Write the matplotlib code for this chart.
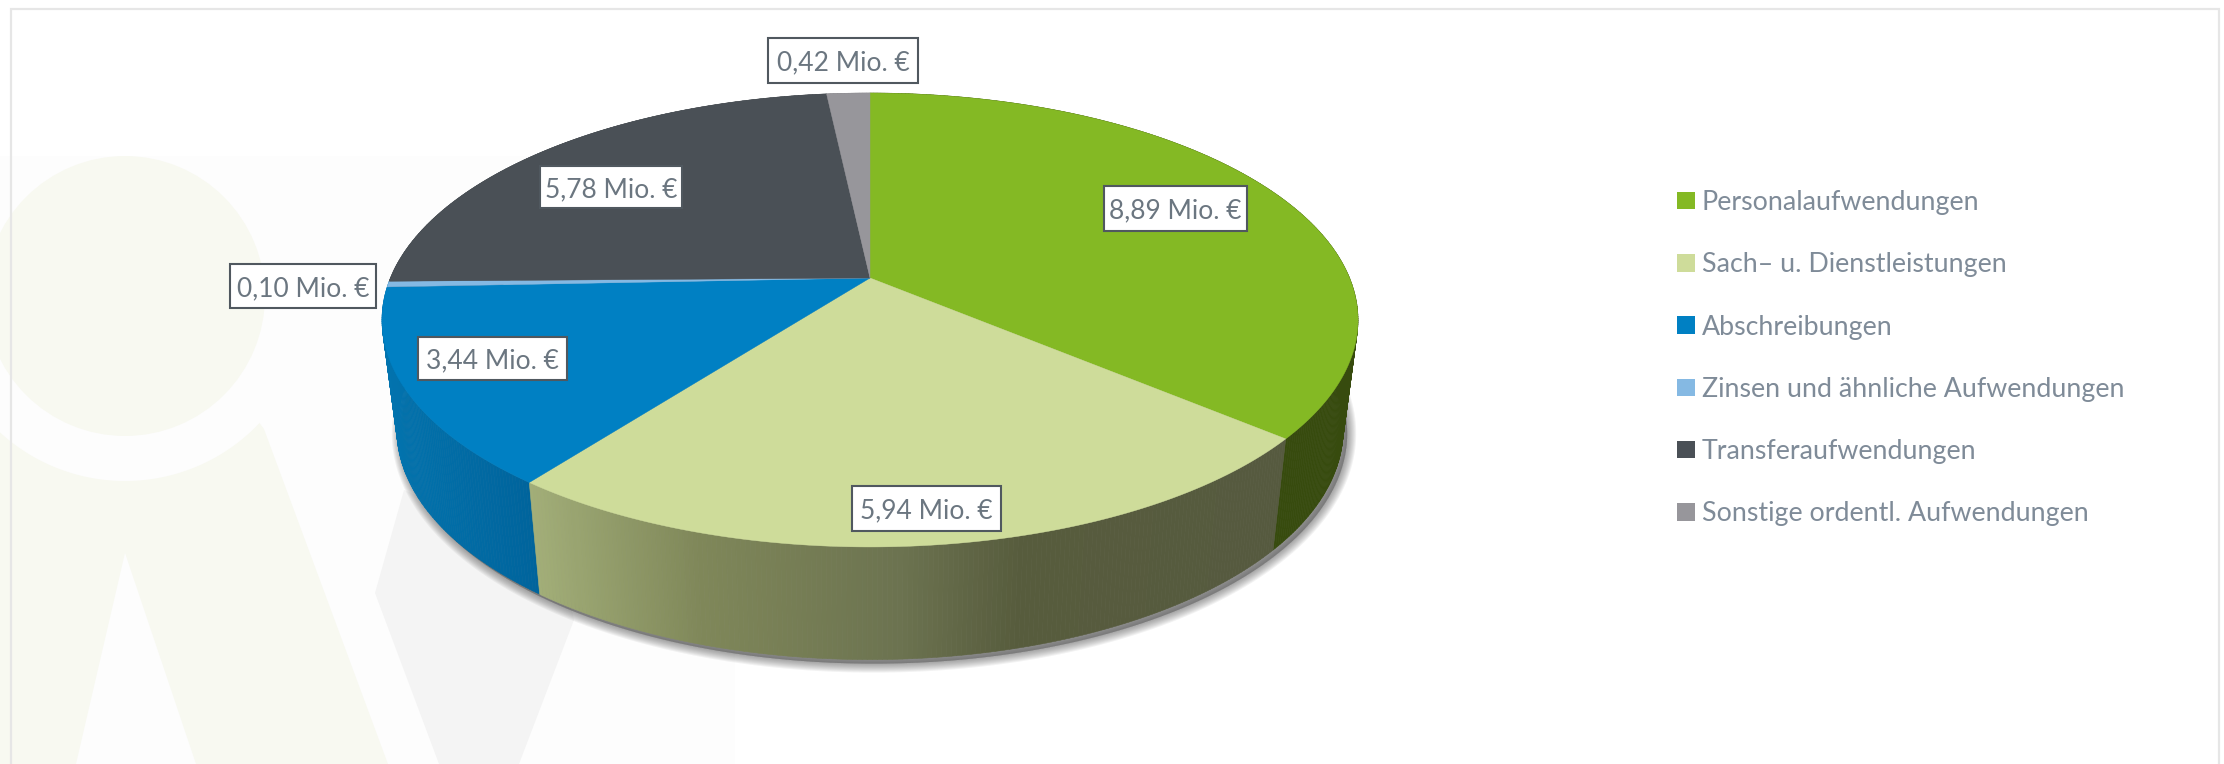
import numpy as np
import matplotlib
matplotlib.use("Agg")
import matplotlib.pyplot as plt
from matplotlib.patches import Polygon, Rectangle, Circle, Patch
from matplotlib.collections import PolyCollection

categories = ["Personalaufwendungen", "Sach- u. Dienstleistungen", "Abschreibungen",
              "Zinsen und ähnliche Aufwendungen", "Transferaufwendungen",
              "Sonstige ordentl. Aufwendungen"]
values = [8.89, 5.94, 3.44, 0.10, 5.78, 0.42]
value_labels = ["8,89 Mio. €", "5,94 Mio. €", "3,44 Mio. €", "0,10 Mio. €", "5,78 Mio. €", "0,42 Mio. €"]
colors = ["#84b924", "#cedc9a", "#0080c3", "#85b9e3", "#4a5056", "#97969b"]
label_centers = [(1175, 208.5), (926, 508.5), (492.5, 358.5), (303, 286), (611, 187), (843, 60.5)]
label_widths = [143, 149, 149, 146, 142, 150]
label_heights = [45, 45, 43, 44, 42, 45]

plt.rcParams['font.family'] = ['Lato', 'DejaVu Sans']
W, H = 2224, 764
fig = plt.figure(figsize=(W / 100, H / 100), dpi=100, facecolor="white")
ax = fig.add_axes([0, 0, 1, 1])
ax.set_xlim(0, W)
ax.set_ylim(H, 0)
ax.axis("off")

# page backdrop and faint watermark
ax.add_patch(Rectangle((0, 156), 735, H - 156, fc="#fdfdfd", ec="none", zorder=0))
wm = "#f8f9f1"
ax.add_patch(Circle((125, 296), 140, fc=wm, ec="none", zorder=0.5))
xa = np.linspace(0, 264, 60)
arc = np.c_[xa, 296 + np.sqrt(185 ** 2 - (xa - 125) ** 2)]
arc[-1, 1] = 429
body = np.vstack([[0, H], arc, [388, H], [196, H], [125, 553], [76, H]])
ax.add_patch(Polygon(body, fc=wm, ec="none", zorder=0.5))
ax.add_patch(Polygon([(375, 593), (404, 490), (560, 560), (574, 620), (519, H), (439, H)],
                     fc="#f4f4f4", ec="none", zorder=0.6))
for seg in ([(11, H), (11, 8.5), (2219, 8.5), (2219, H)],):
    ax.plot(*zip(*seg), color="#e6e6e6", lw=1.6, zorder=0.7, solid_joinstyle="miter")

# perspective disc model
CX, CY, K = 870.0, 278.0, 0.185


def top_pt(theta):
    u, v = np.sin(theta), np.cos(theta)
    d = 1 + K * v
    return np.c_[CX + 479.6 * u / d, CY - 219.2 * v / d]


def bot_pt(theta):
    u, v = np.sin(theta), np.cos(theta)
    d = 1 + K * v
    return np.c_[CX + 465.0 * u / d, CY - (202.0 * v - 109.0) / d]


# soft shadow below the disc
th_all = np.radians(np.arange(0, 360, 1.0))
shadow = bot_pt(th_all) + np.array([4.0, 4.0])
for lw in np.arange(13, 0, -1.5):
    ax.add_patch(Polygon(shadow, closed=True, fc="#555555", ec="#555555", lw=lw, alpha=0.075,
                         joinstyle="round", zorder=1))

# side wall colouring by horizontal position
side_stops = {
    0: ([1285, 1360], ["#374b0e", "#374b0e"]),
    1: ([531, 700, 900, 1020, 1285], ["#a2ae78", "#7f8759", "#6c7350", "#575c3d", "#565a3f"]),
    2: ([385, 531], ["#0273ae", "#00649c"]),
    3: ([380, 390], ["#0273ae", "#0273ae"]),
    4: ([380, 900], ["#3a4045", "#3a4045"]),
    5: ([800, 900], ["#77767a", "#77767a"]),
}
cum = np.concatenate([[0], np.cumsum(values)])
ang = cum / cum[-1] * 2 * np.pi
polys, faces, order = [], [], []
for i in range(len(values)):
    n = max(2, int(np.degrees(ang[i + 1] - ang[i]) / 0.5) + 1)
    th = np.linspace(ang[i], ang[i + 1], n)
    t, b = top_pt(th), bot_pt(th)
    xs, cols = side_stops[i]
    rgb = np.array([matplotlib.colors.to_rgb(c) for c in cols])
    for j in range(n - 1):
        polys.append([t[j], t[j + 1], b[j + 1], b[j]])
        xm = (t[j, 0] + t[j + 1, 0]) / 2
        faces.append([np.interp(xm, xs, rgb[:, c]) for c in range(3)])
        order.append(np.cos((th[j] + th[j + 1]) / 2))
idx = np.argsort(-np.array(order))
ax.add_collection(PolyCollection([polys[k] for k in idx], facecolors=[faces[k] for k in idx],
                                 edgecolors=[faces[k] for k in idx], linewidths=0.4, zorder=2))

# top face
for i in range(len(values)):
    th = np.linspace(ang[i], ang[i + 1], max(3, int(np.degrees(ang[i + 1] - ang[i])) * 2))
    ax.add_patch(Polygon(np.vstack([[CX, CY], top_pt(th)]), fc=colors[i], ec=colors[i], lw=0.3, zorder=3))

# value labels
for txt, (x, y), w, h in zip(value_labels, label_centers, label_widths, label_heights):
    ax.add_patch(Rectangle((x - w / 2, y - h / 2), w, h, fc="white", ec="#50585f", lw=1.5, zorder=4))
    ax.text(x, y, txt, ha="center", va="center_baseline", fontsize=19, color="#6b7680", zorder=5)

# legend
fs = 19.3
fs_px = fs * 100 / 72
handles = [Patch(fc=c, ec="none", label=n.replace("Sach-", "Sach–")) for c, n in zip(colors, categories)]
leg = ax.legend(handles=handles, loc="upper left", bbox_to_anchor=(1677 / W, 1 - 190 / H),
                bbox_transform=fig.transFigure, frameon=False, fontsize=fs, labelcolor="#7f8b98",
                handlelength=17.5 / fs_px, handleheight=17 / fs_px, handletextpad=7.5 / fs_px,
                labelspacing=(62.2 - fs_px * 0.93) / fs_px, borderpad=0, borderaxespad=0)
leg.set_zorder(6)

fig.savefig("out.png", dpi=100, facecolor="white")
